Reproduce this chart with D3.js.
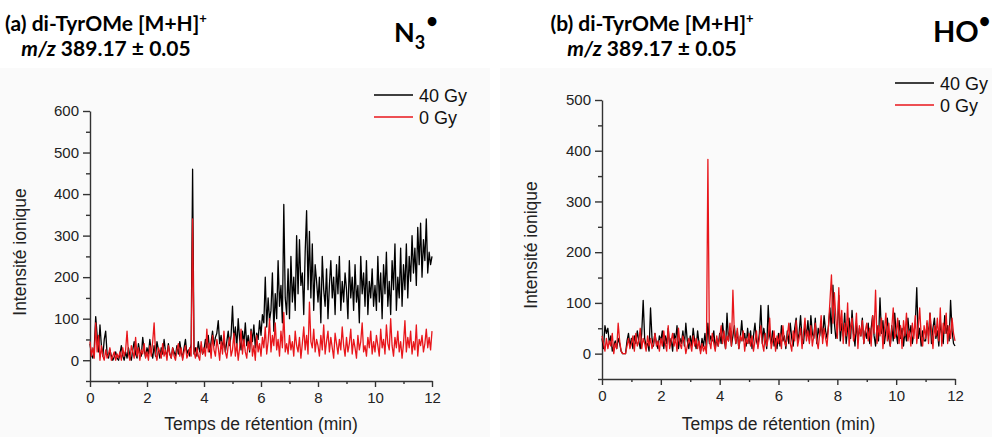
<!DOCTYPE html>
<html><head><meta charset="utf-8">
<script src="https://cdn.jsdelivr.net/npm/d3@7"></script>
<style>
body{margin:0;background:#fff}
svg{display:block}
.ax text{font-family:"Liberation Sans",Arial,sans-serif;font-size:15px;fill:#222}
.ax path,.ax line{stroke:#333;stroke-width:1.4}
.lbl{font-family:"Liberation Sans",Arial,sans-serif;font-size:17.5px;fill:#222}
.leg{font-family:"Liberation Sans",Arial,sans-serif;font-size:18px;fill:#111}
.ttl{font-family:Lato,"Open Sans",sans-serif;font-weight:bold;fill:#000}
</style>
</head><body>
<svg id="c" width="992" height="437"></svg>
<script>
// ---- data (retention time sampled every 0.05 min, 0 → 12 min) ----
const timeStep = 0.05;
const xTicks = [0, 2, 4, 6, 8, 10, 12];
const xMinorTicks = [1, 3, 5, 7, 9, 11];
const yTicksA = [0, 100, 200, 300, 400, 500, 600];
const yMinorA = [-50, 50, 150, 250, 350, 450, 550];
const yTicksB = [0, 100, 200, 300, 400, 500];
const yMinorB = [-50, 50, 150, 250, 350, 450];
const seriesNames = ["40 Gy", "0 Gy"];
const seriesColors = ["#000000", "#e8161b"];

// (a) N3• — 40 Gy
const a40 = [
 40,12,5,30,105,60,20,85,35,10,50,70,15,5,25,10,0,8,20,5,
 0,15,35,10,0,20,5,30,10,0,25,45,15,5,40,20,10,55,25,8,
 30,15,50,20,5,35,10,45,25,5,30,15,50,20,10,40,15,5,30,20,
 10,35,15,45,20,5,30,50,15,25,10,40,460,15,30,10,45,20,35,15,
 25,50,30,60,20,45,70,35,55,65,95,40,60,30,50,20,45,70,35,60,
 130,45,80,30,100,50,25,70,40,90,35,60,20,75,45,85,30,65,50,95,
 60,110,90,200,80,150,95,120,210,70,160,100,240,130,180,90,375,150,110,220,
 100,250,140,200,120,300,160,290,180,210,110,260,360,170,310,150,280,120,230,190,
 140,200,90,250,170,130,220,100,180,240,150,200,110,230,160,250,120,190,140,210,
 170,100,240,150,200,120,230,140,180,90,250,160,210,130,240,110,190,150,220,130,
 180,120,250,140,210,100,230,160,260,130,190,110,240,170,280,120,200,150,270,130,
 230,170,280,150,250,190,300,210,270,180,320,230,330,200,290,240,340,210,260,230,
 250];
// (a) N3• — 0 Gy
const a0 = [
 45,10,30,5,90,20,60,0,35,10,0,25,5,15,30,0,10,20,0,15,
 5,20,0,30,10,25,70,15,0,35,20,5,55,10,30,0,25,15,40,5,
 20,0,35,10,45,90,15,0,30,20,5,40,10,25,0,35,15,5,30,10,
 0,25,40,10,30,0,20,35,5,15,30,10,340,20,5,30,10,0,45,15,
 30,10,75,20,40,5,60,25,10,50,30,0,45,15,70,20,5,35,55,10,
 25,65,10,40,0,30,75,15,50,20,5,45,25,70,10,35,0,60,20,40,
 10,55,30,80,15,45,100,20,60,35,90,25,50,10,70,30,115,20,40,15,
 60,25,45,10,70,35,20,55,5,40,80,25,60,15,140,45,30,75,20,50,
 35,10,60,25,85,15,45,70,20,55,30,5,65,40,15,50,25,80,35,10,
 55,20,40,75,15,50,30,5,60,25,45,90,20,35,10,55,30,70,15,45,
 20,60,35,10,75,30,50,15,85,40,25,100,35,10,55,30,70,20,45,5,
 40,95,20,55,30,70,15,45,25,85,10,50,35,60,20,40,75,30,55,25,
 70];
// (b) HO• — 40 Gy
const b40 = [
 30,10,55,40,50,20,35,5,15,25,10,30,20,5,0,0,0,25,40,15,
 30,10,35,20,45,25,10,40,105,30,15,20,5,90,30,15,40,20,10,35,
 25,45,10,35,20,50,15,30,5,40,25,55,10,30,20,45,15,60,25,10,
 35,15,50,25,10,45,20,5,30,15,40,10,60,20,35,25,45,10,30,15,
 40,20,60,30,10,80,25,50,15,35,55,20,45,10,30,65,25,40,15,50,
 20,45,10,35,60,25,15,40,95,20,50,30,10,95,35,20,45,15,30,10,
 40,15,55,25,35,10,45,20,60,30,15,50,70,25,40,75,30,20,55,35,
 65,25,75,40,30,70,20,50,35,60,30,75,45,30,55,90,40,135,60,30,
 45,115,25,60,35,80,20,50,70,30,85,40,15,60,25,50,35,70,20,45,
 30,60,20,50,75,35,15,55,25,110,40,65,20,45,70,30,15,55,25,80,
 40,20,65,30,50,15,45,25,70,35,55,20,40,60,130,30,50,15,45,25,
 25,60,35,80,20,50,70,30,45,15,65,35,20,75,40,55,25,105,45,20,
 15];
// (b) HO• — 0 Gy
const b0 = [
 35,20,5,30,10,25,15,40,0,20,10,60,25,5,0,0,0,15,30,10,
 20,35,5,40,15,25,50,10,30,20,5,35,15,30,10,20,40,15,25,5,
 30,15,45,20,5,55,10,25,40,15,30,5,50,20,10,35,25,0,15,30,
 20,5,35,15,30,10,25,0,20,5,15,0,383,25,10,40,20,5,35,15,
 30,55,20,45,10,35,25,60,15,125,40,20,50,10,35,25,45,5,30,20,
 40,15,35,5,25,45,10,30,55,20,5,40,15,30,70,10,25,45,5,35,
 20,40,10,55,25,15,35,60,20,5,45,25,65,15,30,50,10,40,70,25,
 45,20,55,15,35,60,25,10,40,75,20,50,30,15,55,105,155,60,120,70,
 30,130,45,85,20,60,35,100,15,50,70,25,40,80,10,55,35,65,20,45,
 60,25,50,15,75,40,125,20,55,35,70,10,45,80,25,60,15,50,90,30,
 40,70,20,55,10,65,35,80,25,45,15,60,30,75,20,50,90,35,15,55,
 30,65,20,80,45,10,55,35,70,25,90,15,60,40,80,20,55,30,70,40,
 25];

// ---- drawing ----
const svg = d3.select("#c");
svg.append("rect").attr("x",0).attr("y",68).attr("width",490).attr("height",369).attr("fill","#fafafa");
svg.append("rect").attr("x",500).attr("y",68).attr("width",492).attr("height",369).attr("fill","#fafafa");

function panel(cfg){
  const g = svg.append("g");
  const x = d3.scaleLinear().domain([0,12]).range([cfg.x0, cfg.x1]);
  const y = d3.scaleLinear().domain([-50, cfg.ymax]).range([cfg.yb, cfg.yt]);

  g.append("g").attr("class","ax").attr("transform",`translate(0,${cfg.yb})`)
    .call(d3.axisBottom(x).tickValues(xTicks).tickSize(6).tickSizeOuter(0).tickPadding(5));
  g.append("g").attr("class","ax").attr("transform",`translate(0,${cfg.yb})`)
    .call(d3.axisBottom(x).tickValues(xMinorTicks).tickSize(3).tickSizeOuter(0).tickFormat(""))
    .select(".domain").remove();
  g.append("g").attr("class","ax").attr("transform",`translate(${cfg.x0},0)`)
    .call(d3.axisLeft(y).tickValues(cfg.yTicks).tickSize(7).tickSizeOuter(0).tickPadding(4));
  g.append("g").attr("class","ax").attr("transform",`translate(${cfg.x0},0)`)
    .call(d3.axisLeft(y).tickValues(cfg.yMinor).tickSize(4).tickSizeOuter(0).tickFormat(""))
    .select(".domain").remove();
  g.selectAll(".ax").attr("font-family",null).attr("font-size",null);

  const line = d3.line().x((d,i)=>x(i*timeStep)).y(d=>y(d));
  [cfg.s40, cfg.s0].forEach((s,k)=>{
    g.append("path").datum(s).attr("d",line).attr("fill","none")
     .attr("stroke",seriesColors[k]).attr("stroke-width",1.3).attr("stroke-linejoin","round");
  });

  g.append("text").attr("class","lbl").attr("x",(cfg.x0+cfg.x1)/2).attr("y",430)
    .attr("text-anchor","middle").text("Temps de rétention (min)");
  g.append("text").attr("class","lbl").attr("transform",`translate(${cfg.yTitleX},${cfg.yTitleY}) rotate(-90)`)
    .attr("text-anchor","middle").text("Intensité ionique");

  seriesNames.forEach((n,k)=>{
    const ly = cfg.legY + k*22;
    g.append("line").attr("x1",cfg.legX).attr("x2",cfg.legX+39).attr("y1",ly).attr("y2",ly)
      .attr("stroke",seriesColors[k]).attr("stroke-width",1.3);
    g.append("text").attr("class","leg").attr("x",cfg.legX+45).attr("y",ly+6.5).text(n);
  });

  const t1 = g.append("text").attr("class","ttl").attr("x",cfg.tC).attr("y",31)
    .attr("text-anchor","middle").style("font-size","21px");
  t1.append("tspan").text(cfg.letter+" di-TyrOMe [M+H]");
  t1.append("tspan").attr("dy",-8).style("font-size","13px").text("+");
  const t2 = g.append("text").attr("class","ttl").attr("x",cfg.tC).attr("y",56)
    .attr("text-anchor","middle").style("font-size","21px");
  t2.append("tspan").style("font-style","italic").text("m/z");
  t2.append("tspan").text(" 389.17 ± 0.05");
}

panel({x0:90,x1:432,yb:381,yt:111,ymax:600,yTicks:yTicksA,yMinor:yMinorA,s40:a40,s0:a0,
  yTitleX:26,yTitleY:252,legX:374,legY:95,letter:"(a)",tC:106});
panel({x0:602,x1:955,yb:379,yt:100,ymax:500,yTicks:yTicksB,yMinor:yMinorB,s40:b40,s0:b0,
  yTitleX:537,yTitleY:245,legX:895,legY:83,letter:"(b)",tC:652});

// radical labels
const r1 = svg.append("text").attr("class","ttl").attr("x",394).attr("y",42).style("font-size","27px");
r1.append("tspan").text("N");
r1.append("tspan").attr("dy",7).style("font-size","18px").text("3");
r1.append("tspan").attr("dy",-21).attr("dx",1).style("font-size","20px").text("•");
const r2 = svg.append("text").attr("class","ttl").attr("x",933).attr("y",42).style("font-size","29px");
r2.append("tspan").text("HO");
r2.append("tspan").attr("dy",-14).style("font-size","20px").text("•");
</script>
</body></html>
